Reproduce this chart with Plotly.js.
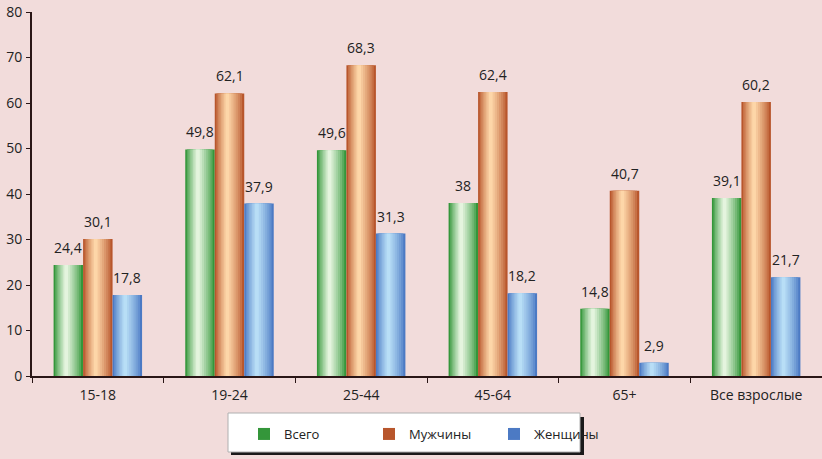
<!DOCTYPE html>
<html>
<head>
<meta charset="utf-8">
<script src="https://cdn.plot.ly/plotly-3.0.1.min.js"></script>
<style>
  html, body { margin: 0; padding: 0; background: #F2DCDB; }
  #chart { width: 822px; height: 459px; }
</style>
</head>
<body>
<div id="chart"></div>
<script>
// age groups and shares
var categories = ["15-18", "19-24", "25-44", "45-64", "65+", "Все взрослые"];
var seriesNames = ["Всего", "Мужчины", "Женщины"];
var totalVals = [24.4, 49.8, 49.6, 38, 14.8, 39.1];
var menVals = [30.1, 62.1, 68.3, 62.4, 40.7, 60.2];
var womenVals = [17.8, 37.9, 31.3, 18.2, 2.9, 21.7];

var seriesVals = [totalVals, menVals, womenVals];

// dark edge -> light centre, per series
var shades = [
  { dark: [52, 150, 58], light: [228, 244, 222] },
  { dark: [184, 86, 44], light: [253, 214, 168] },
  { dark: [76, 122, 196], light: [184, 222, 246] }
];

var barW = 0.224;
var groupStart = -1.5 * barW;
var layers = 8;
var lightPos = 0.42;

function mix(a, b, t) {
  return 'rgb(' + a.map(function (v, i) { return Math.round(v + (b[i] - v) * t); }).join(',') + ')';
}

var traces = [];
var annotations = [];
var xIdx = categories.map(function (c, i) { return i; });

seriesVals.forEach(function (vals, s) {
  var off = groupStart + s * barW;
  for (var k = 0; k < layers; k++) {
    var f = 1 - k / layers;
    var t = Math.pow(k / (layers - 1), 0.8);
    var left = lightPos * (1 - f);
    traces.push({
      type: 'bar',
      x: categories,
      y: vals,
      name: seriesNames[s],
      showlegend: k === 0,
      legendgroup: seriesNames[s],
      width: barW * f,
      offset: off + left * barW,
      marker: { color: mix(shades[s].dark, shades[s].light, t), line: { width: 0 } },
      hoverinfo: 'skip'
    });
  }
  vals.forEach(function (v, i) {
    annotations.push({
      x: xIdx[i] + off + barW / 2,
      y: v,
      xref: 'x', yref: 'y',
      text: String(v).replace('.', ','),
      showarrow: false,
      yanchor: 'bottom',
      yshift: 6,
      font: { size: 14, color: '#222' }
    });
  });
});

// legend box with shadow (paper coords: plot spans 32..822 x 12..376 px)
function px(x) { return (x - 32) / 790; }
function py(y) { return (376 - y) / 364; }
var shapes = [
  { type: 'rect', xref: 'paper', yref: 'paper', x0: px(231), x1: px(584), y0: py(455), y1: py(417),
    fillcolor: '#1a1a1a', line: { width: 0 }, layer: 'below' },
  { type: 'rect', xref: 'paper', yref: 'paper', x0: px(228), x1: px(580), y0: py(452), y1: py(413),
    fillcolor: '#ffffff', line: { color: '#b0b0b0', width: 1 }, layer: 'below' }
];

var layout = {
  width: 822,
  height: 459,
  margin: { l: 32, r: 0, t: 12, b: 83 },
  paper_bgcolor: '#F2DCDB',
  plot_bgcolor: '#F2DCDB',
  font: { family: 'Open Sans, sans-serif', size: 13, color: '#222' },
  barmode: 'overlay',
  showlegend: true,
  legend: {
    orientation: 'h',
    x: px(244), xanchor: 'left',
    y: py(419), yanchor: 'top',
    bgcolor: 'rgba(0,0,0,0)',
    borderwidth: 0,
    entrywidth: 80,
    font: { size: 13 },
    itemclick: false
  },
  xaxis: {
    type: 'category',
    showgrid: false,
    showline: true,
    linecolor: '#2a1616',
    linewidth: 2,
    ticks: 'outside',
    tickson: 'boundaries',
    ticklen: 5,
    tickcolor: '#2a1616',
    tickfont: { size: 14 },
    ticklabelstandoff: 5,
    range: [-0.5, 5.5],
    fixedrange: true
  },
  yaxis: {
    range: [0, 80],
    dtick: 10,
    showgrid: false,
    zeroline: false,
    showline: true,
    linecolor: '#2a1616',
    linewidth: 2,
    ticks: 'outside',
    ticklen: 4,
    tickcolor: '#2a1616',
    tickfont: { size: 14 },
    ticklabelstandoff: 1,
    ticklabeloverflow: 'allow',
    fixedrange: true
  },
  shapes: shapes,
  annotations: annotations
};

Plotly.newPlot('chart', traces, layout, { displayModeBar: false, staticPlot: true });
</script>
</body>
</html>
